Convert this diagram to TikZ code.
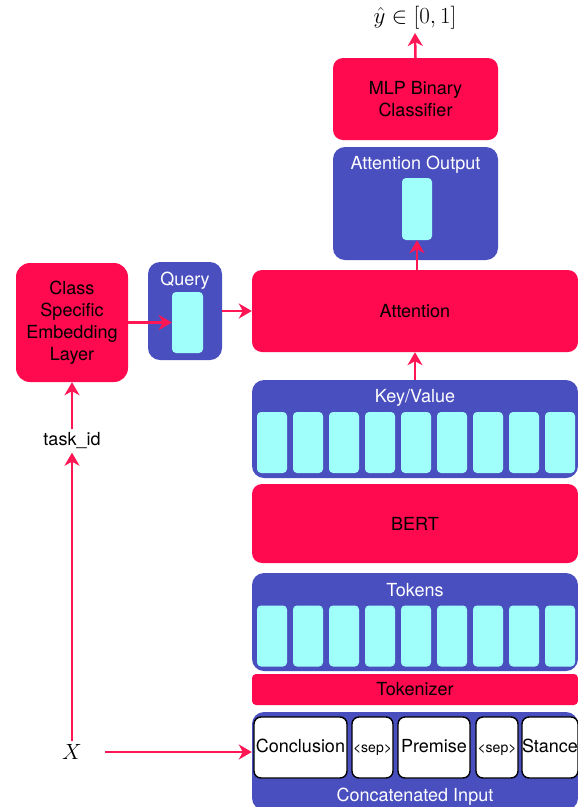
\RequirePackage{fix-cm}
\documentclass[tikz,border=0pt]{standalone}
\usepackage[no-math]{fontspec}
\setmainfont{TeX Gyre Heros}
\usetikzlibrary{arrows.meta,positioning}
\definecolor{boxred}{HTML}{FF0A4E}
\definecolor{boxblue}{HTML}{4A4FBF}
\definecolor{cellcyan}{HTML}{A0FFFA}
\definecolor{arrred}{HTML}{FF1654}

\begin{document}
\begin{tikzpicture}[
    x=1pt, y=-1pt,
    font=\fontsize{18}{22}\selectfont,
    redbox/.style={fill=boxred, rounded corners=10pt, inner sep=0pt, align=center},
    bluebox/.style={fill=boxblue, rounded corners=12pt, inner sep=0pt},
    whitelbl/.style={text=white},
    cell/.style={fill=cellcyan, rounded corners=4pt, minimum width=30pt, minimum height=61pt, inner sep=0pt},
    inbox/.style={draw=black, line width=1.4pt, fill=white, rounded corners=7pt, minimum height=61pt, inner sep=0pt, text height=13pt, text depth=4pt},
    arr/.style={draw=arrred, line width=2.5pt, -{Stealth[length=13pt,width=15pt,inset=4pt]}}
]
    \useasboundingbox (0,0) rectangle (578,807);
    \node[redbox, minimum width=165pt, minimum height=82pt] (mlp) at (415.5,99) {MLP Binary\\Classifier};
    \node (yhat) at (415,18) {\fontsize{23}{26}\selectfont$\hat{y}\in[0,1]$};
    \node[bluebox, minimum width=165pt, minimum height=113pt] (attout) at (415.5,203.5) {};
    \node[whitelbl] (attoutlbl) at (415.5,165) {Attention Output};
    \node[cell, minimum height=62pt] (outcell) at (417,209) {};
    \node[redbox, minimum width=326pt, minimum height=82pt] (attn) at (415,311) {Attention};
    \node[bluebox, minimum width=326pt, minimum height=98pt] (keyval) at (415,429) {};
    \node[whitelbl] (keyvallbl) at (415,398) {Key/Value};
    \foreach \i in {0,...,8} \node[cell] (kv\i) at (272+36*\i,442.5) {};
    \node[redbox, minimum width=326pt, minimum height=79pt] (bert) at (415,523.5) {BERT};
    \node[bluebox, minimum width=326pt, minimum height=98pt] (tokens) at (415,622) {};
    \node[whitelbl] (tokenslbl) at (415,590) {Tokens};
    \foreach \i in {0,...,8} \node[cell] (tk\i) at (272+36*\i,636) {};
    \node[redbox, rounded corners=4pt, minimum width=326pt, minimum height=31pt] (tokenizer) at (415,689.5) {Tokenizer};
    \node[bluebox, minimum width=326pt, minimum height=98pt] (concat) at (415,761) {};
    \node[whitelbl] (concatlbl) at (415,797) {Concatenated Input};
    \foreach \x/\w/\t/\n in {300.5/93/Conclusion/concl, 372.5/41/{\fontsize{14}{16}\selectfont<sep>}/sepa, 434/72/Premise/prem, 497/42/{\fontsize{14}{16}\selectfont<sep>}/sepb, 550/52/Stance/stance}
        \node[inbox, minimum width=\w pt] (\n) at (\x,747.5) {\t};
    \node[redbox, rounded corners=14pt, minimum width=112pt, minimum height=119pt] (embed) at (72,322.5) {Class\\Specific\\Embedding\\Layer};
    \node[bluebox, minimum width=74pt, minimum height=98pt] (query) at (185,311) {};
    \node[whitelbl] (querylbl) at (185,281) {Query};
    \node[cell, minimum width=31pt] (qcell) at (187.5,322.5) {};
    \node (taskid) at (72,441) {task\_id};
    \node (X) at (72,752) {\fontsize{22}{26}\selectfont$X$};

    \draw[arr] (mlp.north) -- (yhat.south);
    \draw[arr] (attn.north -| outcell) -- (outcell.south);
    \draw[arr] (keyval.north) -- (attn.south);
    \draw[arr] (embed.east |- qcell) -- (qcell.west);
    \draw[arr] (query.east |- attn) -- (attn.west);
    \draw[arr] (taskid.north) -- (embed.south);
    \draw[arr] (X.north) -- (taskid.south);
    \draw[arr, shorten <=20pt] (X.east) -- (concat.west |- X);
\end{tikzpicture}
\end{document}
